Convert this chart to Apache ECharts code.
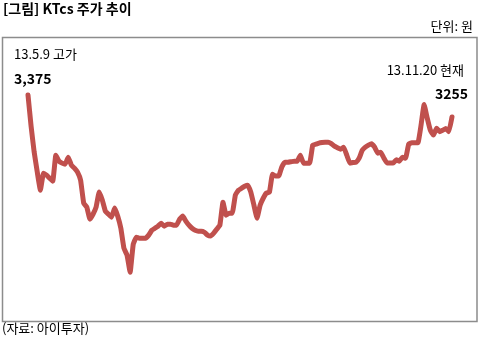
<!DOCTYPE html>
<html>
<head>
<meta charset="utf-8">
<script src="https://cdn.jsdelivr.net/npm/echarts@6/dist/echarts.min.js"></script>
<style>
html,body{margin:0;padding:0;background:#fff;}
#c{width:482px;height:341px;}
</style>
</head>
<body>
<div id="c"></div>
<script>
// trading-day index (13.5.9 = 0 ... 13.11.20 = 137)
const days = [];
for (let i = 0; i <= 137; i++) days.push(i);
// closing prices (원)
const prices = [
  3375, 3204, 3061, 2951, 2852, 2946, 2935, 2918, 2902, 3045,
  3012, 3001, 2995, 3034, 2990, 2973, 2951, 2907, 2781, 2759,
  2693, 2720, 2759, 2842, 2798, 2737, 2720, 2704, 2754, 2709,
  2643, 2533, 2495, 2401, 2555, 2594, 2588, 2588, 2588, 2605,
  2632, 2643, 2654, 2671, 2654, 2665, 2665, 2660, 2660, 2693,
  2710, 2682, 2660, 2643, 2632, 2627, 2627, 2621, 2605, 2600,
  2616, 2638, 2660, 2786, 2715, 2726, 2726, 2825, 2852, 2863,
  2874, 2880, 2841, 2770, 2698, 2770, 2808, 2836, 2841, 2940,
  2930, 2930, 2979, 3006, 3006, 3009, 3012, 3012, 3045, 3001,
  3001, 3001, 3100, 3105, 3111, 3114, 3116, 3116, 3108, 3094,
  3086, 3078, 3089, 3045, 3001, 3004, 3006, 3028, 3072, 3089,
  3100, 3108, 3089, 3056, 3061, 3028, 3002, 3002, 3002, 3020,
  3012, 3034, 3028, 3105, 3113, 3113, 3113, 3210, 3323, 3248,
  3182, 3155, 3193, 3174, 3182, 3191, 3174, 3255
];
const titleText = '[그림] KTcs 주가 추이';
const unitText = '단위: 원';
const highLabel = '13.5.9 고가';
const highValue = '3,375';
const nowLabel = '13.11.20 현재';
const nowValue = '3255';
const sourceText = '(자료: 아이투자)';

const font = '"Noto Sans CJK KR", "Malgun Gothic", sans-serif';
const chart = echarts.init(document.getElementById('c'));
chart.setOption({
  animation: false,
  backgroundColor: '#fff',
  grid: { left: 28, top: 36, width: 424, height: 291 },
  xAxis: { type: 'value', min: 0, max: 137, show: false },
  yAxis: { type: 'value', min: 2100, max: 3700, show: false },
  graphic: [
    { type: 'rect', shape: { x: 2.5, y: 37.5, width: 474.5, height: 284 },
      style: { fill: 'none', stroke: '#8c8c8c', lineWidth: 1.5 }, z: 0 },
    { type: 'text', left: 3, top: 2, style: { text: titleText, font: 'bold 14px ' + font, fill: '#000' } },
    { type: 'text', right: 9, top: 20, style: { text: unitText, font: '13px ' + font, fill: '#000' } },
    { type: 'text', left: 14, top: 48, style: { text: highLabel, font: '13px ' + font, fill: '#000' } },
    { type: 'text', left: 14, top: 72, style: { text: highValue, font: 'bold 14px ' + font, fill: '#000' } },
    { type: 'text', right: 18, top: 64, style: { text: nowLabel, font: '13px ' + font, fill: '#000' } },
    { type: 'text', right: 14, top: 87, style: { text: nowValue, font: 'bold 14px ' + font, fill: '#000' } },
    { type: 'text', left: 2, top: 322, style: { text: sourceText, font: '13px ' + font, fill: '#000' } }
  ],
  series: [{
    type: 'line',
    data: days.map((d, i) => [d, prices[i]]),
    showSymbol: false,
    smooth: 0.1,
    lineStyle: { color: '#c0504d', width: 5, cap: 'round', join: 'round' }
  }]
});
</script>
</body>
</html>
